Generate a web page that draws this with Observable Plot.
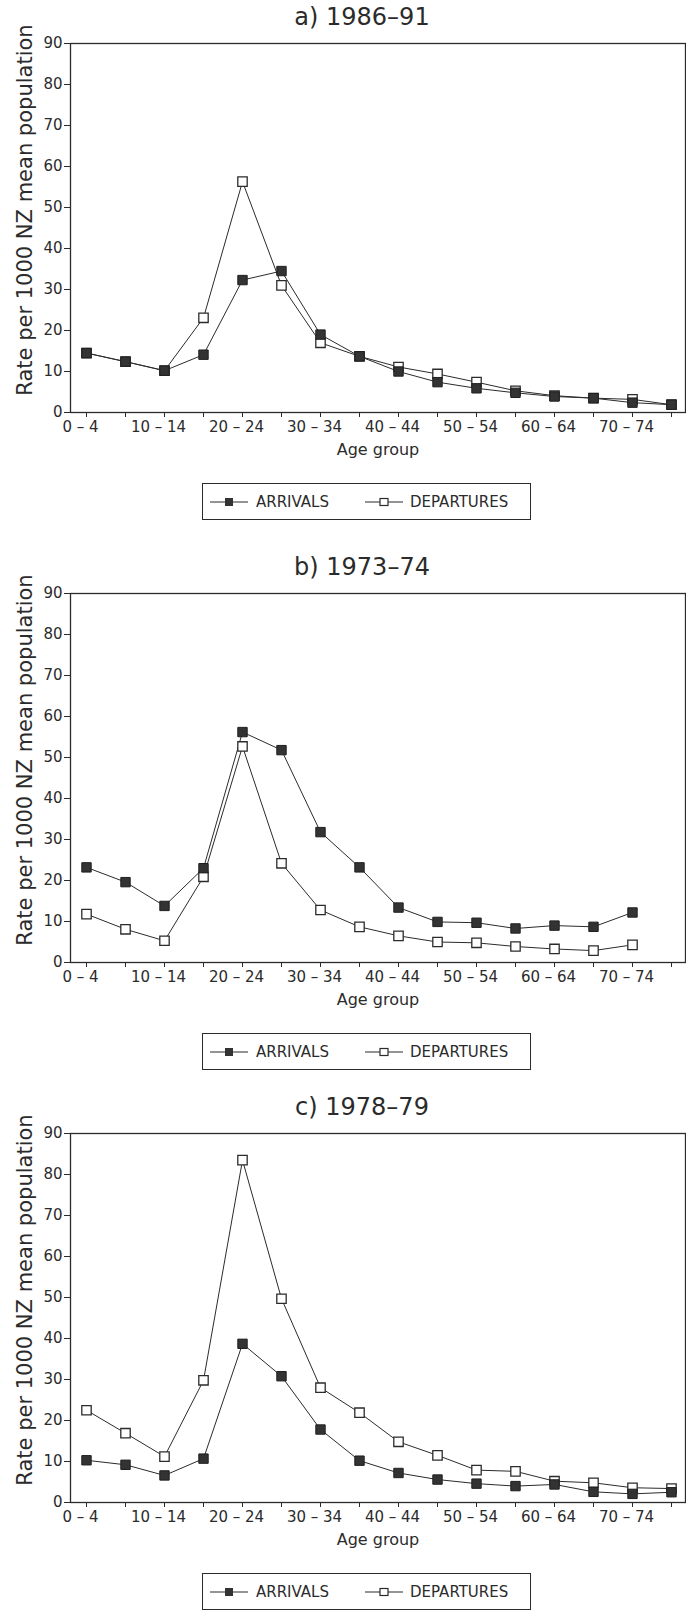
<!DOCTYPE html>
<html><head><meta charset="utf-8">
<script src="https://cdn.jsdelivr.net/npm/d3@7"></script>
<script src="https://cdn.jsdelivr.net/npm/@observablehq/plot@0.6"></script>
<style>
body{margin:0;background:#fff;}
#root{position:relative;width:686px;height:1613px;font-family:"DejaVu Sans",sans-serif;color:#2b2b2b;overflow:hidden;}
.abs{position:absolute;}
.title{left:0;width:724px;text-align:center;font-size:24px;line-height:28px;white-space:nowrap;}
.xlab{left:278px;width:200px;text-align:center;font-size:16px;line-height:20px;}
.ylab{font-size:21px;line-height:24px;white-space:nowrap;transform:translate(-50%,-50%) rotate(-90deg);}
.legend{left:202px;width:327px;height:35px;border:1.5px solid #2b2b2b;font-size:15px;}
.legend span{position:absolute;top:9px;line-height:18px;}
.legend svg{position:absolute;top:13px;}
</style>
</head><body><div id="root"></div>
<script>
const ages = ["0 – 4","5 – 9","10 – 14","15 – 19","20 – 24","25 – 29","30 – 34","35 – 39",
              "40 – 44","45 – 49","50 – 54","55 – 59","60 – 64","65 – 69","70 – 74","75 – 79"];
const labelAges = ["0 – 4","10 – 14","20 – 24","30 – 34","40 – 44","50 – 54","60 – 64","70 – 74"];
const yTicks = [0,10,20,30,40,50,60,70,80,90];

const titles = ["a) 1986–91","b) 1973–74","c) 1978–79"];
const arrivalsA   = [14.5,12.4,10.2,14.1,32.3,34.5,19.0,13.7,10.0,7.4,5.9,4.8,3.9,3.5,2.4,1.9];
const departuresA = [14.5,12.4,10.2,23.1,56.3,31.0,17.0,13.7,11.1,9.4,7.4,5.3,4.1,3.5,3.2,1.9];
const arrivalsB   = [23.2,19.6,13.8,23.0,56.2,51.8,31.8,23.2,13.4,9.9,9.7,8.3,9.0,8.7,12.2];
const departuresB = [11.8,8.1,5.3,20.9,52.7,24.2,12.8,8.7,6.5,5.0,4.8,3.9,3.3,2.9,4.3];
const arrivalsC   = [10.3,9.2,6.6,10.7,38.7,30.8,17.8,10.2,7.2,5.6,4.6,4.0,4.4,2.6,2.1,2.5];
const departuresC = [22.5,16.9,11.2,29.8,83.5,49.7,28.0,21.9,14.8,11.5,7.9,7.6,5.2,4.8,3.6,3.4];

const frameTops = [43, 593, 1133];
const plotH = 369;
const ink = "#2b2b2b";

const series = [[arrivalsA, departuresA],[arrivalsB, departuresB],[arrivalsC, departuresC]];
const root = document.getElementById("root");

function rows(vals){ return vals.map((v,i)=>({age: ages[i], value: v})); }

series.forEach(([arr, dep], p) => {
  const T = frameTops[p], B = T + plotH;
  const title = document.createElement("div");
  title.className = "abs title";
  title.style.top = (T - 40) + "px";
  title.textContent = titles[p];
  root.appendChild(title);

  const chart = Plot.plot({
    width: 686, height: 13 + plotH + 50,
    marginLeft: 70, marginRight: 1, marginTop: 13, marginBottom: 50,
    style: {fontFamily: "DejaVu Sans, sans-serif", fontSize: "15px", color: ink, background: "transparent", overflow: "visible"},
    x: {type: "point", domain: ages, range: [84, 672], padding: 0, label: null},
    y: {domain: [0, 90], label: null},
    marks: [
      Plot.frame({stroke: ink, strokeWidth: 1.3}),
      Plot.axisX({ticks: ages, tickSize: 5, tickFormat: () => "", label: null, stroke: ink}),
      Plot.axisX({ticks: labelAges, tickSize: 0, tickPadding: 9, dx: -6, label: null, fill: ink}),
      Plot.axisY({ticks: yTicks, tickSize: 6, tickPadding: 2, label: null, stroke: ink, fill: ink}),
      Plot.line(rows(dep), {x: "age", y: "value", stroke: ink, strokeWidth: 1}),
      Plot.line(rows(arr), {x: "age", y: "value", stroke: ink, strokeWidth: 1}),
      Plot.dot(rows(dep), {x: "age", y: "value", symbol: "square", r: 5.3, fill: "white", stroke: ink, strokeWidth: 1.3}),
      Plot.dot(rows(arr), {x: "age", y: "value", symbol: "square", r: 5.3, fill: "#333", stroke: "#1f1f1f", strokeWidth: 1})
    ]
  });
  const holder = document.createElement("div");
  holder.className = "abs";
  holder.style.left = "0px";
  holder.style.top = (T - 13) + "px";
  holder.appendChild(chart);
  root.appendChild(holder);

  const yl = document.createElement("div");
  yl.className = "abs ylab";
  yl.style.left = "25px";
  yl.style.top = ((T + B) / 2 - 18) + "px";
  yl.textContent = "Rate per 1000 NZ mean population";
  root.appendChild(yl);

  const xl = document.createElement("div");
  xl.className = "abs xlab";
  xl.style.top = (B + 28) + "px";
  xl.textContent = "Age group";
  root.appendChild(xl);

  const lg = document.createElement("div");
  lg.className = "abs legend";
  lg.style.top = (B + 71) + "px";
  lg.innerHTML =
    `<svg width="38" height="10" style="left:7px"><line x1="0" y1="5" x2="38" y2="5" stroke="${ink}" stroke-width="1.2"/><rect x="15" y="1" width="8" height="8" fill="#333"/></svg>` +
    `<span style="left:53px">ARRIVALS</span>` +
    `<svg width="38" height="10" style="left:162px"><line x1="0" y1="5" x2="38" y2="5" stroke="${ink}" stroke-width="1.2"/><rect x="15" y="1.5" width="8" height="7" fill="white" stroke="${ink}" stroke-width="1.2"/></svg>` +
    `<span style="left:207px">DEPARTURES</span>`;
  root.appendChild(lg);
});
</script>
</body></html>
